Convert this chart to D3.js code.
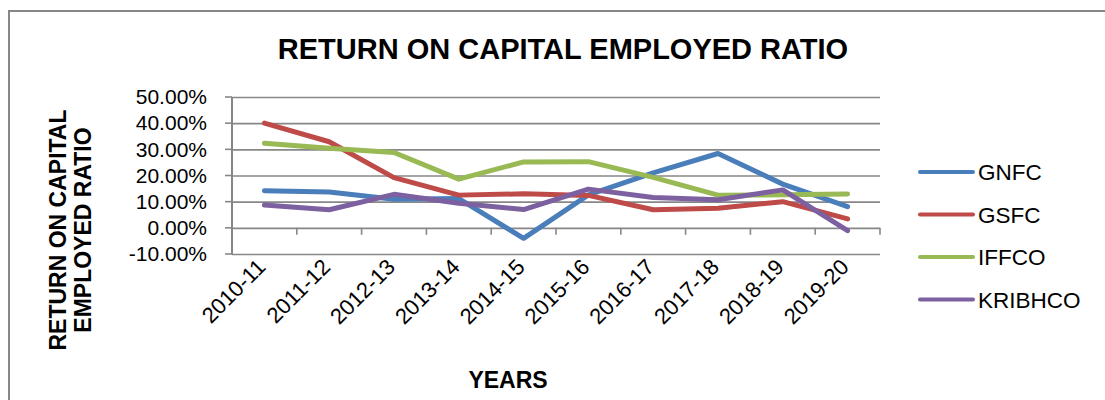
<!DOCTYPE html>
<html>
<head>
<meta charset="utf-8">
<script src="https://cdn.jsdelivr.net/npm/d3@7"></script>
<style>
  body { margin: 0; background: #fff; }
  text { font-family: "Liberation Sans", Arial, sans-serif; fill: #000; }
</style>
</head>
<body>
<div id="chart"></div>
<script>
var years = ["2010-11","2011-12","2012-13","2013-14","2014-15","2015-16","2016-17","2017-18","2018-19","2019-20"];
var gnfc    = [14.2, 13.7, 10.9, 11.2, -4.0, 12.6, 21.0, 28.4, 16.7, 8.1];
var gsfc    = [40.0, 32.9, 19.2, 12.5, 13.0, 12.4, 6.9, 7.5, 10.0, 3.4];
var iffco   = [32.3, 30.4, 28.8, 18.6, 25.2, 25.3, 19.3, 12.5, 12.6, 12.9];
var kribhco = [8.7, 6.9, 12.8, 9.4, 7.0, 14.8, 11.6, 10.7, 14.5, -1.1];
var yTicks  = [-10, 0, 10, 20, 30, 40, 50];

var series = [
  {name: "GNFC", values: gnfc, color: "#4a7ebb"},
  {name: "GSFC", values: gsfc, color: "#be4b48"},
  {name: "IFFCO", values: iffco, color: "#98b954"},
  {name: "KRIBHCO", values: kribhco, color: "#7d60a0"}
];

var W = 1105, H = 400;
var plot = {left: 232, right: 880, top: 97, bottom: 254};

var svg = d3.select("#chart").append("svg")
  .attr("width", W).attr("height", H);

// outer chart border
svg.append("rect")
  .attr("x", 9).attr("y", 11)
  .attr("width", W + 20).attr("height", H + 20)
  .attr("fill", "none").attr("stroke", "#878787").attr("stroke-width", 2);

var x = d3.scaleBand().domain(years).range([plot.left, plot.right]).padding(0);
var y = d3.scaleLinear().domain([-10, 50]).range([plot.bottom, plot.top]);

// title
svg.append("text")
  .attr("x", 563).attr("y", 59)
  .attr("text-anchor", "middle")
  .style("font-size", "29px").style("font-weight", "bold")
  .text("RETURN ON CAPITAL EMPLOYED RATIO");

// gridlines + y axis
var yAxis = svg.append("g")
  .attr("transform", "translate(" + plot.left + ",0)")
  .call(d3.axisLeft(y).tickValues(yTicks)
    .tickSize(-(plot.right - plot.left))
    .tickFormat(function(d) { return d.toFixed(2) + "%"; }));
yAxis.select(".domain").remove();
yAxis.selectAll(".tick line").attr("stroke", "#878787").attr("stroke-width", 1.6);
yAxis.selectAll(".tick text")
  .attr("x", -25)
  .style("font-size", "21px");

// small left ticks
svg.append("g").selectAll("line").data(yTicks).join("line")
  .attr("x1", plot.left - 7).attr("x2", plot.left)
  .attr("y1", function(d) { return y(d); }).attr("y2", function(d) { return y(d); })
  .attr("stroke", "#878787").attr("stroke-width", 1.6);

svg.append("line")
  .attr("x1", plot.left).attr("x2", plot.left)
  .attr("y1", plot.top).attr("y2", plot.bottom)
  .attr("stroke", "#878787").attr("stroke-width", 2);

// x axis on the zero line
var boundaries = d3.range(years.length + 1).map(function(i) { return plot.left + i * x.bandwidth(); });
svg.append("g").selectAll("line").data(boundaries).join("line")
  .attr("x1", function(d) { return d; }).attr("x2", function(d) { return d; })
  .attr("y1", y(0)).attr("y2", y(0) + 7)
  .attr("stroke", "#878787").attr("stroke-width", 1.6);

// x labels (sit below the plot area)
svg.append("g").selectAll("text").data(years).join("text")
  .attr("transform", function(d) {
    return "translate(" + (x(d) + x.bandwidth() / 2 - 3) + "," + 263 + ") rotate(-45)";
  })
  .attr("text-anchor", "end")
  .attr("dy", "0.35em")
  .style("font-size", "22px")
  .text(function(d) { return d; });

// axis titles
var yt = svg.append("text")
  .attr("transform", "translate(66,230) rotate(-90)")
  .attr("text-anchor", "middle")
  .style("font-size", "23px").style("font-weight", "bold");
yt.append("tspan").attr("x", 0).attr("y", 0).text("RETURN ON CAPITAL");
yt.append("tspan").attr("x", 0).attr("y", 25).text("EMPLOYED RATIO");

svg.append("text")
  .attr("x", 508).attr("y", 388)
  .attr("text-anchor", "middle")
  .style("font-size", "23px").style("font-weight", "bold")
  .text("YEARS");

// lines
var line = d3.line()
  .x(function(d, i) { return x(years[i]) + x.bandwidth() / 2; })
  .y(function(d) { return y(d); });

svg.append("g").selectAll("path").data(series).join("path")
  .attr("d", function(s) { return line(s.values); })
  .attr("fill", "none")
  .attr("stroke", function(s) { return s.color; })
  .attr("stroke-width", 5)
  .attr("stroke-linejoin", "round")
  .attr("stroke-linecap", "round");

// legend
var leg = svg.append("g").selectAll("g").data(series).join("g")
  .attr("transform", function(d, i) { return "translate(920," + (172 + i * 42.5) + ")"; });
leg.append("line")
  .attr("x1", 0).attr("x2", 53)
  .attr("stroke", function(d) { return d.color; })
  .attr("stroke-width", 4).attr("stroke-linecap", "round");
leg.append("text")
  .attr("x", 58).attr("dy", "0.36em")
  .style("font-size", "22.5px")
  .text(function(d) { return d.name; });
</script>
</body>
</html>
